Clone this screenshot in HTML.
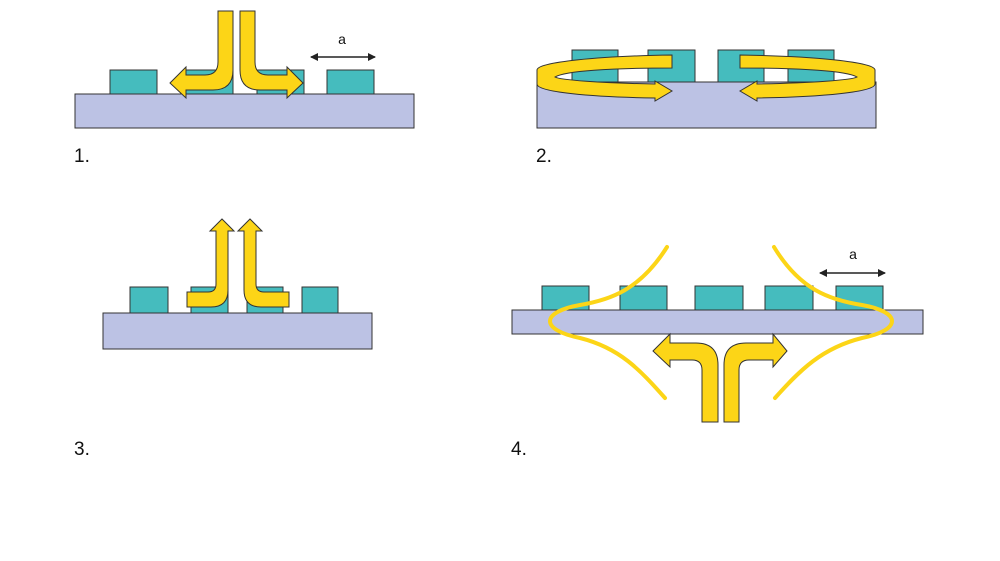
<!DOCTYPE html>
<html><head><meta charset="utf-8"><style>body{margin:0;background:#fff}svg{display:block}text{font-family:"Liberation Sans",sans-serif}</style></head><body>
<svg width="1000" height="561" viewBox="0 0 1000 561" xmlns="http://www.w3.org/2000/svg" font-family="Liberation Sans, sans-serif">
<defs>
<marker id="ah" markerWidth="8" markerHeight="8" refX="7" refY="4" orient="auto-start-reverse" markerUnits="userSpaceOnUse"><path d="M0,0 L8,4 L0,8 Z" fill="#222"/></marker>
</defs>
<g stroke="#333" stroke-width="1">
<!-- panel 1 -->
<rect x="75" y="94" width="339" height="34" fill="#bcc2e4"/>
<rect x="110" y="70" width="47" height="24" fill="#45bcbe"/>
<rect x="185" y="70" width="48" height="24" fill="#45bcbe"/>
<rect x="257" y="70" width="47" height="24" fill="#45bcbe"/>
<rect x="327" y="70" width="47" height="24" fill="#45bcbe"/>
<path d="M218,11 L233,11 L233,70 Q233,90 213,90 L186,90 L186,98 L170,83 L186,67 L186,75 L205,75 Q218,75 218,62 Z" fill="#fcd517"/>
<path d="M255,11 L240,11 L240,70 Q240,90 260,90 L287,90 L287,98 L303,83 L287,67 L287,75 L268,75 Q255,75 255,62 Z" fill="#fcd517"/>
<!-- panel 2 -->
<rect x="537" y="82" width="339" height="46" fill="#bcc2e4"/>
<rect x="572" y="50" width="46" height="32" fill="#45bcbe"/>
<rect x="648" y="50" width="47" height="32" fill="#45bcbe"/>
<rect x="718" y="50" width="46" height="32" fill="#45bcbe"/>
<rect x="788" y="50" width="46" height="32" fill="#45bcbe"/>
<path d="M672,55 C600,56 537,62 537,70 L537,84 C537,92 590,97 655,98 L655,101 L672,91 L655,81 L655,84 C600,83 560,80 555,77 C565,71 610,68 672,68 Z" fill="#fcd517"/>
<path d="M740,55 C812,56 875,62 875,70 L875,84 C875,92 822,97 757,98 L757,101 L740,91 L757,81 L757,84 C812,83 852,80 857,77 C847,71 802,68 740,68 Z" fill="#fcd517"/>
<!-- panel 3 -->
<rect x="103" y="313" width="269" height="36" fill="#bcc2e4"/>
<rect x="130" y="287" width="38" height="26" fill="#45bcbe"/>
<rect x="191" y="287" width="37" height="26" fill="#45bcbe"/>
<rect x="247" y="287" width="36" height="26" fill="#45bcbe"/>
<rect x="302" y="287" width="36" height="26" fill="#45bcbe"/>
<path d="M187,292 L208,292 Q216,292 216,284 L216,231 L210,231 L222,219 L234,231 L228,231 L228,290 Q228,307 211,307 L187,307 Z" fill="#fcd517"/>
<path d="M289,292 L264,292 Q256,292 256,284 L256,231 L262,231 L250,219 L238,231 L244,231 L244,290 Q244,307 261,307 L289,307 Z" fill="#fcd517"/>
<!-- panel 4 -->
<rect x="512" y="310" width="411" height="24" fill="#bcc2e4"/>
<rect x="542" y="286" width="47" height="24" fill="#45bcbe"/>
<rect x="620" y="286" width="47" height="24" fill="#45bcbe"/>
<rect x="695" y="286" width="48" height="24" fill="#45bcbe"/>
<rect x="765" y="286" width="48" height="24" fill="#45bcbe"/>
<rect x="836" y="286" width="47" height="24" fill="#45bcbe"/>
<path d="M702,422 L718,422 L718,365 Q718,343 696,343 L670,343 L670,334 L653,351 L670,367 L670,360 L692,360 Q702,360 702,370 Z" fill="#fcd517"/>
<path d="M739,422 L724,422 L724,365 Q724,343 746,343 L773,343 L773,334 L787,351 L773,367 L773,360 L749,360 Q739,360 739,370 Z" fill="#fcd517"/>
</g>
<g fill="none" stroke="#fcd517" stroke-width="4" stroke-linecap="round">
<path d="M667,247 C640,290 610,300 580,305 C540,312 540,330 580,338 C620,348 640,370 665,398"/>
<path d="M774,247 C800,290 830,300 862,305 C902,312 902,330 862,338 C822,348 800,370 775,398"/>
</g>
<g stroke="#222" stroke-width="1.5">
<line x1="311" y1="57" x2="375" y2="57" marker-start="url(#ah)" marker-end="url(#ah)"/>
<line x1="820" y1="273" x2="885" y2="273" marker-start="url(#ah)" marker-end="url(#ah)"/>
</g>
<g font-size="14" fill="#111" text-anchor="middle" font-family="Liberation Sans, sans-serif">
<text x="342" y="44">a</text>
<text x="853" y="259">a</text>
</g>
<g font-size="19" fill="#111" font-family="Liberation Sans, sans-serif">
<text x="74" y="162">1.</text>
<text x="536" y="162">2.</text>
<text x="74" y="455">3.</text>
<text x="511" y="455">4.</text>
</g>
</svg>
</body></html>
